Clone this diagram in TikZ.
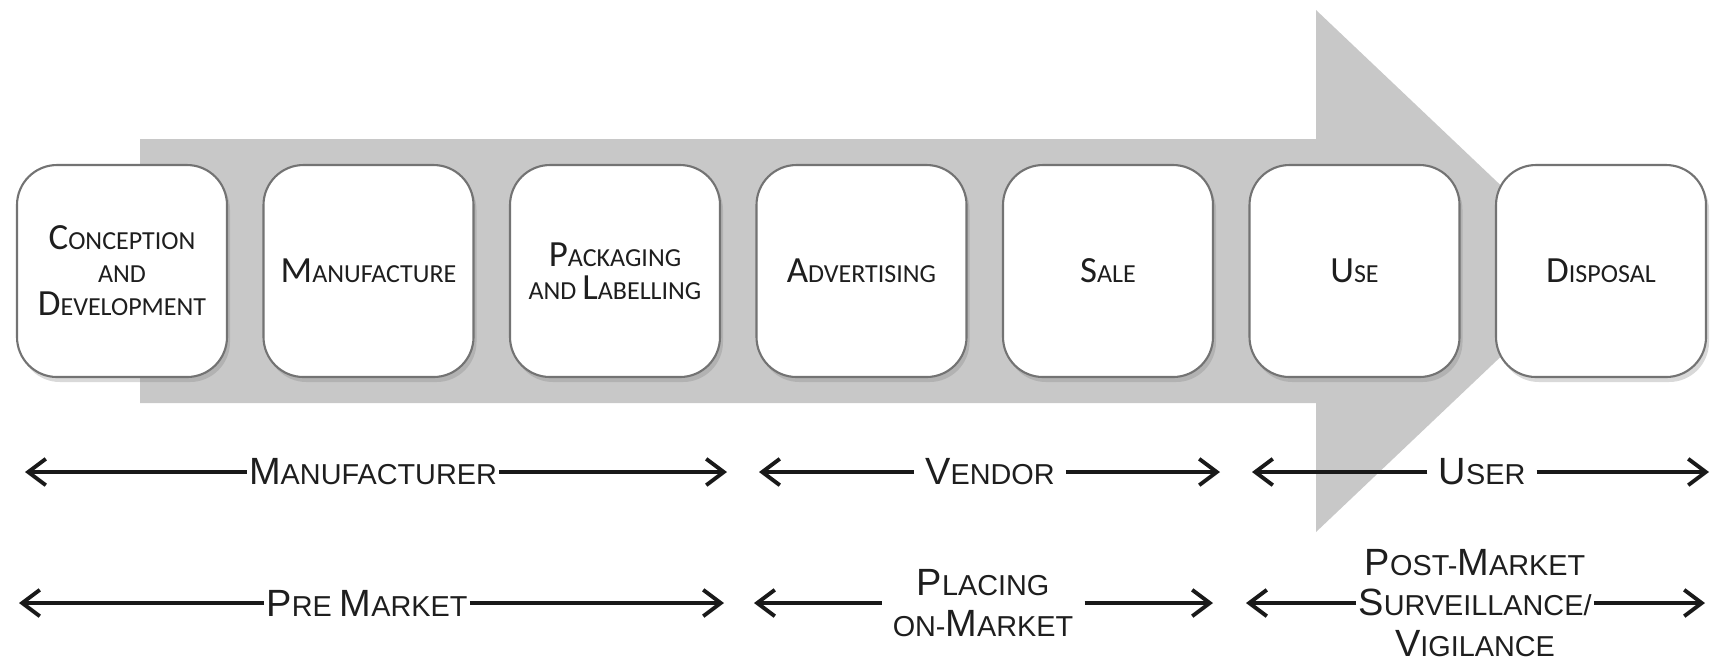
\documentclass[tikz,border=0pt]{standalone}
\usepackage{fontspec}
\setmainfont{Liberation Sans}
\newfontfamily\boxfont{Carlito}
\usetikzlibrary{arrows.meta,shadows}
\definecolor{arrowgray}{RGB}{200,200,200}
\definecolor{boxline}{RGB}{115,115,115}
\definecolor{txt}{RGB}{30,30,30}
\newcommand\bB[1]{{\fontsize{10.5pt}{9.4pt}\selectfont #1}}
\newcommand\lB[1]{{\fontsize{10.8pt}{11.5pt}\selectfont #1}}
\begin{document}
\begin{tikzpicture}[x=0.1mm,y=-0.1mm,
  stage/.style={draw=boxline, line width=0.6pt, fill=white, rounded corners=4mm,
    minimum width=21mm, minimum height=21.2mm, inner sep=0pt, align=center, text=txt,
    font=\boxfont\fontsize{7.4pt}{9.4pt}\selectfont,
    drop shadow={shadow xshift=0.3mm, shadow yshift=-0.5mm, opacity=0.3}},
  lab/.style={inner sep=0.5pt, align=center, text=txt, font=\fontsize{8.2pt}{11.5pt}\selectfont},
  gap/.style={inner sep=3pt},
  span/.style={line width=1.1pt, draw=black!90, >={Straight Barb[length=5pt,width=7.5pt]}}
]
\useasboundingbox (0,0) rectangle (1711,662);
% big gray arrow
\fill[arrowgray] (140,139) -- (1316,139) -- (1316,10) -- (1591,271) -- (1316,532)
  -- (1316,403) -- (140,403) -- cycle;
% stages
\node[stage] (s1) at (122,271) {\bB{C}ONCEPTION\\AND\\\bB{D}EVELOPMENT};
\node[stage] (s2) at (368.5,271) {\bB{M}ANUFACTURE};
\node[stage] (s3) at (615,271) {\bB{P}ACKAGING\\AND \bB{L}ABELLING};
\node[stage] (s4) at (861.5,271) {\bB{A}DVERTISING};
\node[stage] (s5) at (1108,271) {\bB{S}ALE};
\node[stage] (s6) at (1354.5,271) {\bB{U}SE};
\node[stage] (s7) at (1601,271) {\bB{D}ISPOSAL};
% row 1
\coordinate (a1l) at (25,472);   \coordinate (a1r) at (727,472);
\coordinate (a2l) at (759,472);  \coordinate (a2r) at (1220,472);
\coordinate (a3l) at (1252,472); \coordinate (a3r) at (1709,472);
\node[lab] (manu) at (373,472) {\lB{M}ANUFACTURER};
\node[lab,gap] (vend) at (990,472) {\lB{V}ENDOR};
\node[lab,gap] (user) at (1482,472) {\lB{U}SER};
\draw[span,->] (manu.west) -- (a1l); \draw[span,->] (manu.east) -- (a1r);
\draw[span,->] (vend.west) -- (a2l); \draw[span,->] (vend.east) -- (a2r);
\draw[span,->] (user.west) -- (a3l); \draw[span,->] (user.east) -- (a3r);
% row 2
\coordinate (b1l) at (19,603);   \coordinate (b1r) at (724,603);
\coordinate (b2l) at (754,603);  \coordinate (b2r) at (1213,603);
\coordinate (b3l) at (1246,603); \coordinate (b3r) at (1705,603);
\node[lab] (pre) at (367,603) {\lB{P}RE \lB{M}ARKET};
\node[lab,gap] (plac) at (983,603) {\lB{P}LACING\\ON-\lB{M}ARKET};
\node[lab] (post) at (1475,603) {\lB{P}OST-\lB{M}ARKET\\\lB{S}URVEILLANCE/\\\lB{V}IGILANCE};
\draw[span,->] (pre.west) -- (b1l);  \draw[span,->] (pre.east) -- (b1r);
\draw[span,->] (plac.west) -- (b2l); \draw[span,->] (plac.east) -- (b2r);
\draw[span,->] (post.west) -- (b3l); \draw[span,->] (post.east) -- (b3r);
\end{tikzpicture}
\end{document}
